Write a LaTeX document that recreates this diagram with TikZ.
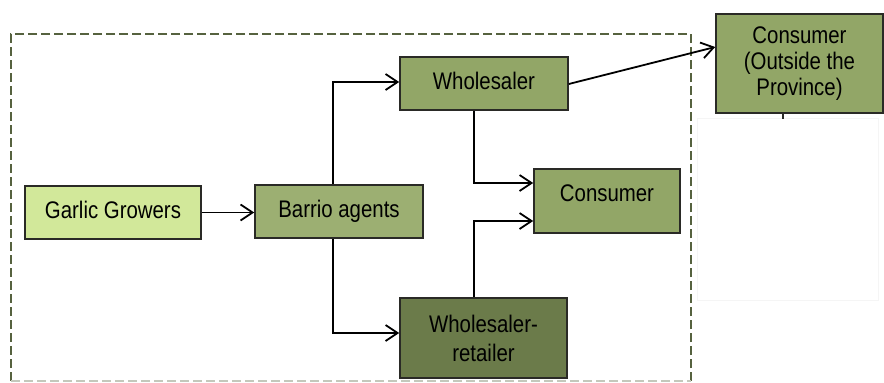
\documentclass[tikz,border=0pt]{standalone}
\usepackage{fontspec}
\setmainfont{Liberation Sans}[FakeStretch=0.85]
\usetikzlibrary{arrows.meta}
\definecolor{limefill}{HTML}{D2E89A}
\definecolor{olivefill}{HTML}{9CAF72}
\definecolor{greenfill}{HTML}{92A667}
\definecolor{darkfill}{HTML}{6B7B4A}
\definecolor{boxline}{HTML}{2A2A26}
\definecolor{dashline}{HTML}{56623F}
\tikzset{
  box/.style={draw=boxline, line width=1.6pt, rectangle, inner sep=0pt,
    font=\fontsize{24}{27}\selectfont, text height=17pt, text depth=5pt,
    align=center},
  flow/.style={draw=black, line width=1.8pt,
    -{Straight Barb[length=12pt,width=16pt]}},
}
\begin{document}
\begin{tikzpicture}[x=1pt,y=-1pt]
  \useasboundingbox (0,0) rectangle (884,383);
  \fill[white] (0,0) rectangle (884,383);

  % region boundary
  \draw[dashline, line width=2.4pt, dash pattern=on 9pt off 4pt]
    (691,381) -- (691,34) -- (11,34) -- (11,381);
  \draw[dashline!35, line width=1.5pt, dash pattern=on 9pt off 4pt]
    (11,381) -- (691,381);
  \draw[black!4, line width=0.6pt] (697,118) rectangle (878,300);

  % actors
  \node[box, fill=limefill, minimum width=176pt, minimum height=53pt]
    (gg) at (113,212.5) {Garlic Growers};
  \node[box, fill=olivefill, minimum width=168pt, minimum height=53pt]
    (ba) at (339,211.5) {Barrio agents};
  \node[box, fill=greenfill, minimum width=168pt, minimum height=53pt]
    (wh) at (484,83.5) {Wholesaler};
  \node[box, fill=greenfill, minimum width=146pt, minimum height=64pt,
    text height=18pt, text depth=16.8pt]
    (co) at (607,201) {Consumer};
  \node[box, fill=darkfill, minimum width=167pt, minimum height=80pt,
    text height=, text depth=, font=\fontsize{24}{29}\selectfont]
    (wr) at (483.5,338) {Wholesaler-\\retailer};
  \node[box, fill=greenfill, minimum width=167pt, minimum height=99pt,
    text height=, text depth=, font=\fontsize{24}{26}\selectfont]
    (out) at (799.5,63.5) {Consumer\\(Outside the\\Province)};

  % flows
  \draw[flow] (gg.east) -- (gg.east -| ba.west);
  \draw[flow] ([xshift=-6pt]ba.north) |- ([yshift=1.5pt]wh.west);
  \draw[flow] ([xshift=-6pt]ba.south) |- ([yshift=5pt]wr.west);
  \draw[flow] ([xshift=-10pt]wh.south) |- ([yshift=18pt]co.west);
  \draw[flow] ([xshift=-9.5pt]wr.north) |- ([yshift=-20pt]co.west);
  \draw[flow] ([yshift=-0.5pt]wh.east) -- ([yshift=16.5pt]out.west);
  \draw[boxline, line width=1.6pt] ([xshift=-16.5pt]out.south) -- ++(0,5);
\end{tikzpicture}
\end{document}
